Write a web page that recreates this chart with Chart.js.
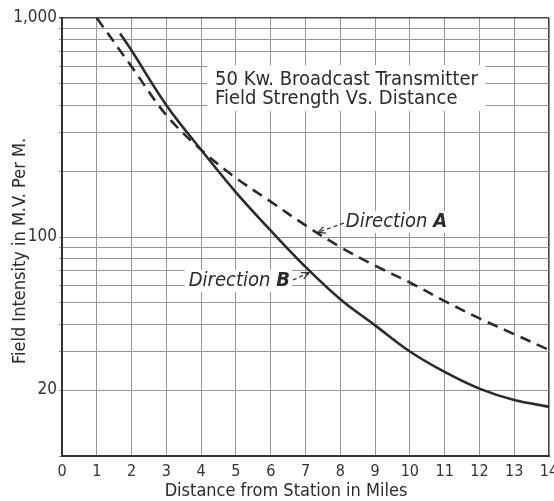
<!DOCTYPE html>
<html>
<head>
<meta charset="utf-8">
<script src="https://cdn.jsdelivr.net/npm/chart.js"></script>
<style>
  html, body { margin: 0; padding: 0; background: #fff; }
  #wrap { width: 554px; height: 501px; }
</style>
</head>
<body>
<div id="wrap"><canvas id="fieldChart" width="554" height="501"></canvas></div>
<script>
// Direction A (dashed) - miles vs field intensity
const milesA = [1, 2, 3, 4, 5, 6, 7, 8, 9, 10, 11, 12, 13, 14];
const fieldA = [1000, 600, 360, 250, 186, 145, 113, 90, 74, 62, 51, 42.5, 36, 30.5];

// Direction B (solid)
const milesB = [1.67, 2, 3, 4, 5, 6, 7, 8, 9, 10, 11, 12, 13, 14];
const fieldB = [850, 710, 400, 250, 160, 107, 73, 52, 39.5, 30, 24.2, 20.3, 18, 16.8];

// axis ticks
const xTicks = [0, 1, 2, 3, 4, 5, 6, 7, 8, 9, 10, 11, 12, 13, 14];
const yTicks = [10, 20, 30, 40, 50, 60, 70, 80, 90, 100, 200, 300, 400, 500, 600, 700, 800, 900, 1000];
const yLabels = { 1000: '1,000', 100: '100', 20: '20' };

const FONT = "'Liberation Sans Narrow', 'DejaVu Sans Condensed', 'Liberation Sans', sans-serif";
const INK = '#2b2b2b';
const GRID = '#959595';

function toPoints(xs, ys) {
  return xs.map((x, i) => ({ x: x, y: ys[i] }));
}

// arrow helper
function arrow(ctx, x1, y1, x2, y2) {
  ctx.save();
  ctx.strokeStyle = INK;
  ctx.lineWidth = 1.2;
  ctx.setLineDash([4, 3]);
  ctx.beginPath();
  ctx.moveTo(x1, y1);
  ctx.lineTo(x2, y2);
  ctx.stroke();
  ctx.setLineDash([]);
  const a = Math.atan2(y2 - y1, x2 - x1);
  ctx.beginPath();
  ctx.moveTo(x2 - 8 * Math.cos(a - 0.45), y2 - 8 * Math.sin(a - 0.45));
  ctx.lineTo(x2, y2);
  ctx.lineTo(x2 - 8 * Math.cos(a + 0.45), y2 - 8 * Math.sin(a + 0.45));
  ctx.stroke();
  ctx.restore();
}

// labels drawn inside the plot (white patch hides the grid behind them)
const notesPlugin = {
  id: 'notes',
  beforeDatasetsDraw(chart) {
    const ctx = chart.ctx;
    const xs = chart.scales.x, ys = chart.scales.y;
    ctx.save();

    // title block
    let tx = xs.getPixelForValue(4.4);
    let ty = ys.getPixelForValue(494);
    ctx.font = "20px " + FONT;
    const tw = ctx.measureText('50 Kw. Broadcast Transmitter').width;
    ctx.fillStyle = '#fff';
    ctx.fillRect(tx - 8, ty - 20, tw + 16, 46);
    ctx.fillStyle = INK;
    ctx.textBaseline = 'alphabetic';
    ctx.textAlign = 'left';
    ctx.fillText('50 Kw. Broadcast Transmitter', tx, ty);
    ctx.fillText('Field Strength Vs. Distance', tx, ys.getPixelForValue(405));

    // Direction A
    let ax = xs.getPixelForValue(8.16);
    let ay = ys.getPixelForValue(117);
    ctx.font = "italic 20px " + FONT;
    let w = ctx.measureText('Direction ').width;
    ctx.fillStyle = '#fff';
    ctx.fillRect(ax - 2, ay - 11, w + 18, 22);
    ctx.fillStyle = INK;
    ctx.textBaseline = 'middle';
    ctx.fillText('Direction ', ax, ay);
    ctx.font = "italic bold 20px " + FONT;
    ctx.fillText('A', ax + w, ay);
    arrow(ctx, ax - 2, ay + 1, xs.getPixelForValue(7.36), ys.getPixelForValue(105));

    // Direction B
    let bx = xs.getPixelForValue(6.55);
    let by = ys.getPixelForValue(63);
    ctx.font = "italic 20px " + FONT;
    const wb1 = ctx.measureText('Direction ').width;
    ctx.font = "italic bold 20px " + FONT;
    const wb2 = ctx.measureText('B').width;
    ctx.fillStyle = '#fff';
    ctx.fillRect(bx - wb1 - wb2 - 4, by - 11, wb1 + wb2 + 6, 22);
    ctx.fillStyle = INK;
    ctx.textAlign = 'right';
    ctx.fillText('B', bx, by);
    ctx.font = "italic 20px " + FONT;
    ctx.fillText('Direction ', bx - wb2, by);
    arrow(ctx, bx + 3, by - 1, xs.getPixelForValue(7.1), ys.getPixelForValue(68.6));

    ctx.restore();
  },
  afterDraw(chart) {
    const ctx = chart.ctx;
    const area = chart.chartArea;
    ctx.save();
    ctx.fillStyle = INK;
    ctx.font = "18px " + FONT;
    ctx.textAlign = 'center';
    ctx.textBaseline = 'middle';
    // x axis title
    ctx.fillText('Distance from Station in Miles', area.left + 224, area.bottom + 35);
    // y axis title
    ctx.translate(20, area.top + 233);
    ctx.rotate(-Math.PI / 2);
    ctx.fillText('Field Intensity in M.V. Per M.', 0, 0);
    ctx.restore();
  }
};

const chart = new Chart(document.getElementById('fieldChart'), {
  type: 'line',
  data: {
    datasets: [
      {
        label: 'Direction A',
        data: toPoints(milesA, fieldA),
        borderColor: INK,
        borderWidth: 2.6,
        borderDash: [11, 7],
        pointRadius: 0,
        tension: 0.35,
        fill: false
      },
      {
        label: 'Direction B',
        data: toPoints(milesB, fieldB),
        borderColor: INK,
        borderWidth: 2.6,
        pointRadius: 0,
        tension: 0.35,
        fill: false
      }
    ]
  },
  options: {
    responsive: false,
    animation: false,
    layout: { padding: { top: 18, right: 5, left: 0, bottom: 0 } },
    plugins: {
      legend: { display: false },
      tooltip: { enabled: false }
    },
    scales: {
      x: {
        type: 'linear',
        min: 0,
        max: 14,
        afterBuildTicks: (scale) => { scale.ticks = xTicks.map(v => ({ value: v })); },
        afterFit: (scale) => { scale.height = 45; scale.paddingRight = 0; scale.paddingLeft = 0; },
        grid: {
          color: (c) => (c.tick && c.tick.value === 14 ? '#444' : GRID),
          lineWidth: (c) => (c.tick && c.tick.value === 14 ? 1.6 : 1),
          drawTicks: false
        },
        border: { color: '#333', width: 2 },
        ticks: {
          autoSkip: false,
          maxRotation: 0,
          padding: 6,
          color: '#333',
          font: { family: FONT, size: 16 },
          callback: (v) => String(v)
        }
      },
      y: {
        type: 'logarithmic',
        min: 10,
        max: 1000,
        afterBuildTicks: (scale) => { scale.ticks = yTicks.map(v => ({ value: v })); },
        afterFit: (scale) => { scale.width = 62; scale.paddingTop = 0; scale.paddingBottom = 0; },
        grid: {
          color: (c) => (c.tick && c.tick.value === 1000 ? '#444' : GRID),
          lineWidth: (c) => (c.tick && c.tick.value === 1000 ? 1.6 : 1),
          tickLength: 3
        },
        border: { color: '#333', width: 2 },
        ticks: {
          autoSkip: false,
          padding: 2,
          color: '#333',
          font: { family: FONT, size: 17 },
          callback: (v) => (yLabels[v] !== undefined ? yLabels[v] : '')
        }
      }
    }
  },
  plugins: [notesPlugin]
});
</script>
</body>
</html>
